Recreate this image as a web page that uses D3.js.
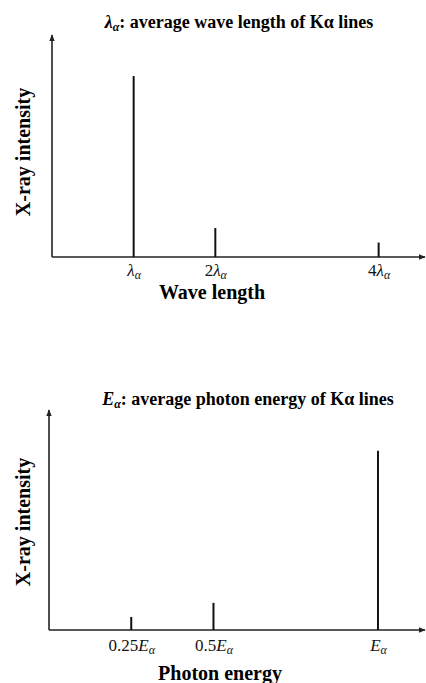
<!DOCTYPE html>
<meta charset="utf-8">
<title>X-ray intensity vs wave length and photon energy</title>
<style>
body { margin: 0; background: #fff; }
svg { display: block; font-family: 'Liberation Serif', 'Times New Roman', serif; }
.title { font-size: 18px; font-weight: bold; }
.lab { font-size: 20px; font-weight: bold; }
.tick text { font-size: 17px; font-family: 'Liberation Serif', 'Times New Roman', serif; }
.axisline { stroke: #222; stroke-width: 1.6px; }
.bar { stroke: #111; stroke-width: 2px; }
</style>
<svg width="426" height="683"></svg>
<script src="https://d3js.org/d3.v7.min.js"></script>
<script>

// wave length panel (multiples of lambda_alpha)
var waveX = [1, 2, 4];
var waveI = [1.0, 0.16, 0.08];
var waveTickPre = ["", "2", "4"];

// photon energy panel (fractions of E_alpha)
var energyX = [0.25, 0.5, 1];
var energyI = [0.072, 0.15, 0.99];
var energyTickPre = ["0.25", "0.5", ""];

var svg = d3.select("svg");

var defs = svg.append("defs");
defs.append("marker")
    .attr("id", "arrow")
    .attr("viewBox", "0 0 10 10")
    .attr("refX", 9).attr("refY", 5)
    .attr("markerWidth", 7).attr("markerHeight", 7)
    .attr("markerUnits", "userSpaceOnUse")
    .attr("orient", "auto")
  .append("path")
    .attr("d", "M0,1 L10,5 L0,9 Z")
    .attr("fill", "#222");

function panel(o) {
  var x = d3.scaleLinear().domain(o.xDomain).range([o.x0, 426]);
  var y = d3.scaleLinear().domain(o.yDomain).range([o.y0, o.yTop]);
  var g = svg.append("g");

  // axes with arrows
  g.append("line").attr("class", "axisline")
      .attr("x1", o.x0).attr("y1", o.y0).attr("x2", o.x0).attr("y2", o.yTop)
      .attr("marker-end", "url(#arrow)");
  g.append("line").attr("class", "axisline")
      .attr("x1", o.x0).attr("y1", o.y0).attr("x2", 425).attr("y2", o.y0)
      .attr("marker-end", "url(#arrow)");

  // spectral lines
  g.selectAll(".bar")
    .data(o.xs)
    .enter().append("line")
      .attr("class", "bar")
      .attr("x1", function(d) { return x(d); })
      .attr("x2", function(d) { return x(d); })
      .attr("y1", y(0))
      .attr("y2", function(d, i) { return y(o.ys[i]); });

  // tick labels via d3 axis, then rewrite text with sub/italics
  var ax = g.append("g")
      .attr("transform", "translate(0," + o.y0 + ")")
      .call(d3.axisBottom(x).tickValues(o.xs).tickSize(0).tickFormat(""));
  ax.attr("font-family", null).attr("font-size", null);
  ax.select(".domain").remove();
  ax.selectAll(".tick text")
      .attr("y", o.tickDy)
      .attr("dy", 0)
      .attr("fill", "#111")
      .each(function(d, i) {
        var t = d3.select(this);
        t.append("tspan").text(o.pre[i]);
        t.append("tspan").attr("font-style", "italic").text(o.sym);
        t.append("tspan").attr("font-style", "italic").attr("font-size", "12px")
            .attr("dy", 3).text("α");
      });

  // x label
  g.append("text").attr("class", "lab")
      .attr("x", o.xLabX).attr("y", o.xLabY)
      .attr("text-anchor", "middle")
      .text(o.xLabel);

  // y label
  g.append("text").attr("class", "lab")
      .attr("transform", "translate(" + 30 + "," + o.yLabY + ") rotate(-90)")
      .attr("text-anchor", "middle")
      .text("X-ray intensity");

  // title
  var t = g.append("text").attr("class", "title")
      .attr("x", o.titleX).attr("y", o.titleY)
      .attr("text-anchor", "middle");
  t.append("tspan").attr("font-style", "italic").text(o.sym);
  t.append("tspan").attr("font-style", "italic").attr("font-size", "12px").attr("dy", 3).text("α");
  t.append("tspan").attr("dy", -3).text(": " + o.title);
}

panel({
  xs: waveX, ys: waveI, pre: waveTickPre, sym: "λ",
  xDomain: [0, 4.58], yDomain: [0, 1.227],
  x0: 52, y0: 257, yTop: 35, tickDy: 19,
  xLabel: "Wave length", xLabX: 212, xLabY: 299,
  yLabY: 152,
  title: "average wave length of Kα lines", titleX: 239, titleY: 28
});

panel({
  xs: energyX, ys: energyI, pre: energyTickPre, sym: "E",
  xDomain: [0, 1.146], yDomain: [0, 1.215],
  x0: 49, y0: 630, yTop: 410, tickDy: 21,
  xLabel: "Photon energy", xLabX: 220, xLabY: 680,
  yLabY: 522,
  title: "average photon energy of Kα lines", titleX: 248, titleY: 405
});

</script>
